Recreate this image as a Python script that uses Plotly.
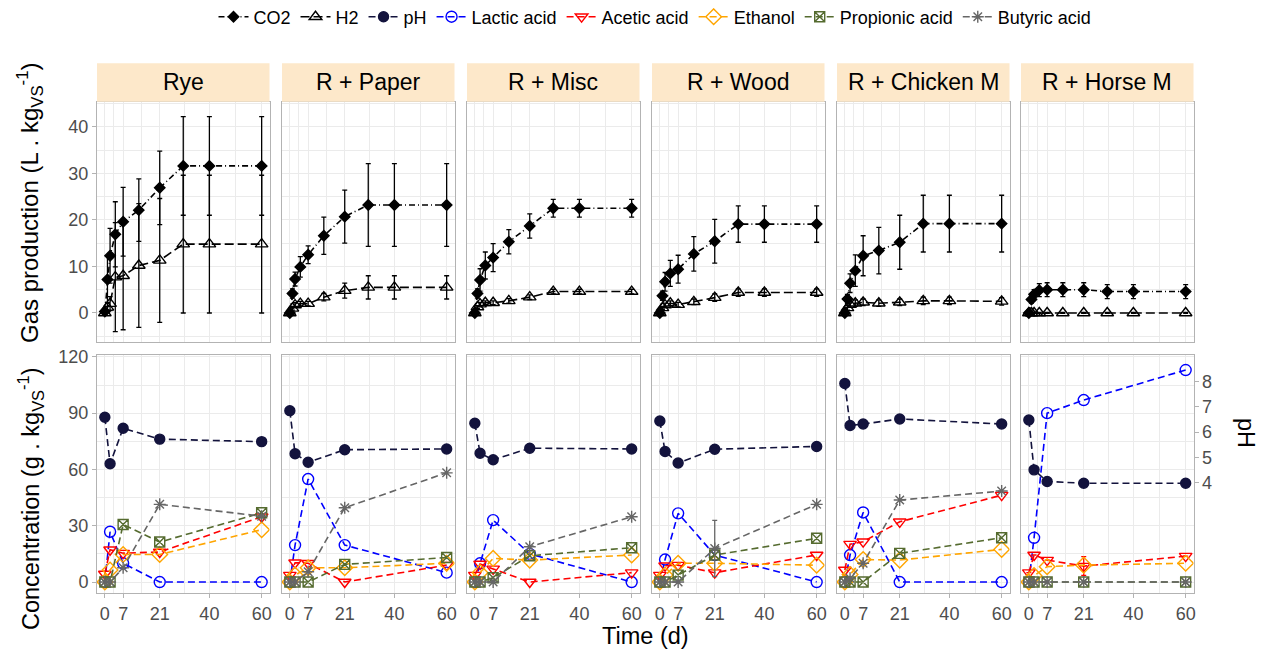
import plotly.graph_objects as go

# ---------------- data ----------------
panels = ["Rye", "R + Paper", "R + Misc", "R + Wood", "R + Chicken M", "R + Horse M"]
gas_days = [0, 1, 2, 4, 7, 13, 21, 30, 40, 60]
conc_days = [0, 2, 7, 21, 60]
x_ticks = [0, 7, 21, 40, 60]

co2_rye = [0.3, 7.2, 12.3, 16.9, 19.6, 22.1, 26.9, 31.6, 31.6, 31.6]
co2_paper = [0.0, 4.2, 7.3, 9.9, 12.5, 16.6, 20.7, 23.2, 23.2, 23.2]
co2_misc = [0.0, 4.2, 7.1, 10.2, 11.9, 15.3, 18.7, 22.5, 22.5, 22.5]
co2_wood = [0.0, 3.7, 6.7, 8.5, 9.4, 12.7, 15.4, 19.1, 19.1, 19.1]
co2_chicken = [0.0, 3.0, 6.4, 9.1, 12.3, 13.4, 15.2, 19.2, 19.2, 19.2]
co2_horse = [0.0, 2.9, 4.0, 4.9, 5.0, 5.0, 5.0, 4.6, 4.6, 4.6]

co2_sd_rye = [0.3, 5.0, 5.9, 7.0, 7.4, 6.7, 7.9, 10.6, 10.6, 10.6]
co2_sd_paper = [0.2, 1.0, 1.5, 2.2, 1.9, 4.0, 5.7, 8.9, 8.9, 8.9]
co2_sd_misc = [0.2, 1.0, 2.4, 2.9, 3.0, 2.6, 2.6, 1.9, 1.9, 1.9]
co2_sd_wood = [0.2, 1.0, 2.0, 2.8, 3.0, 3.7, 4.7, 3.9, 3.9, 3.9]
co2_sd_chicken = [0.2, 1.0, 2.0, 3.4, 4.3, 5.0, 5.8, 6.1, 6.1, 6.1]
co2_sd_horse = [0.2, 0.8, 1.0, 1.4, 1.5, 1.5, 1.5, 1.5, 1.5, 1.5]

h2_rye = [0.0, 1.2, 2.0, 7.7, 8.0, 10.2, 11.3, 14.8, 14.8, 14.8]
h2_paper = [0.0, 1.0, 1.7, 2.0, 2.0, 3.4, 4.8, 5.5, 5.5, 5.5]
h2_misc = [0.0, 1.3, 1.9, 2.2, 2.2, 2.6, 3.4, 4.6, 4.6, 4.6]
h2_wood = [0.0, 1.1, 1.7, 2.1, 1.8, 2.4, 3.3, 4.4, 4.4, 4.4]
h2_chicken = [0.0, 1.1, 1.8, 2.1, 2.3, 2.1, 2.3, 2.6, 2.6, 2.5]
h2_horse = [0.0, 0.0, 0.0, 0.0, 0.0, 0.0, 0.0, 0.0, 0.0, 0.0]

h2_sd_rye = [0.2, 1.0, 1.5, 11.7, 11.6, 13.3, 13.3, 14.8, 14.8, 14.8]
h2_sd_paper = [0.1, 0.4, 0.5, 0.5, 0.5, 0.8, 1.6, 2.5, 2.5, 2.5]
h2_sd_misc = [0.1, 0.3, 0.4, 0.4, 0.4, 0.5, 0.5, 0.5, 0.5, 0.5]
h2_sd_wood = [0.1, 0.3, 0.4, 0.5, 0.5, 0.6, 0.8, 0.8, 0.8, 0.8]
h2_sd_chicken = [0.1, 0.5, 0.6, 0.7, 0.7, 0.7, 0.7, 0.8, 0.8, 0.8]
h2_sd_horse = [0.1, 0.1, 0.1, 0.1, 0.1, 0.1, 0.1, 0.1, 0.1, 0.1]

ph_rye = [6.59, 4.74, 6.15, 5.72, 5.62]
ph_paper = [6.85, 5.14, 4.80, 5.30, 5.33]
ph_misc = [6.35, 5.16, 4.90, 5.36, 5.33]
ph_wood = [6.44, 5.23, 4.77, 5.32, 5.43]
ph_chicken = [7.93, 6.26, 6.32, 6.52, 6.32]
ph_horse = [6.48, 4.50, 4.04, 3.97, 3.97]

lactic_rye = [0, 26.8, 10.0, 0, 0]
lactic_paper = [0, 19.7, 54.9, 19.7, 5.0]
lactic_misc = [0, 10.0, 33.0, 15.0, 0]
lactic_wood = [0, 12.0, 36.6, 14.4, 0]
lactic_chicken = [0, 14.4, 37.1, 0, 0]
lactic_horse = [0, 23.6, 90.0, 97.0, 113.0]

acetic_rye = [4.3, 17.2, 15.4, 16.0, 34.8]
acetic_paper = [3.7, 10.3, 10.0, 0, 9.0]
acetic_misc = [3.7, 9.6, 7.0, 0, 5.0]
acetic_wood = [3.7, 8.7, 9.0, 5.0, 14.4]
acetic_chicken = [6.4, 20.2, 21.5, 32.1, 46.3]
acetic_horse = [5.0, 14.4, 11.7, 8.5, 13.8]
acetic_sd_horse = [0, 0, 0, 5.0, 0]

ethanol_rye = [0, 6.4, 14.7, 14.7, 27.9]
ethanol_paper = [0, 3.7, 7.6, 7.6, 10.0]
ethanol_misc = [0, 5.0, 12.6, 11.7, 14.4]
ethanol_wood = [0, 3.7, 10.0, 10.0, 9.0]
ethanol_chicken = [0, 4.0, 12.0, 11.7, 17.4]
ethanol_horse = [0, 3.4, 8.2, 9.0, 10.0]

propionic_rye = [0, 0, 30.7, 21.3, 36.9]
propionic_paper = [0, 0, 0, 9.4, 13.1]
propionic_misc = [0, 0, 2.3, 14.0, 18.3]
propionic_wood = [0, 0, 3.7, 14.4, 23.3]
propionic_chicken = [0, 0, 0, 15.3, 23.6]
propionic_horse = [0, 0, 0, 0, 0]

butyric_rye = [0, 0, 7.6, 41.4, 35.1]
butyric_paper = [0, 0, 5.5, 39.6, 58.2]
butyric_misc = [0, 0, 0, 18.8, 34.8]
butyric_wood = [0, 0, 0, 17.9, 41.4]
butyric_chicken = [0, 2.0, 10.0, 43.7, 48.5]
butyric_horse = [0, 0, 0, 0, 0]
butyric_sd_wood = [0, 0, 0, 15.0, 0]

co2 = [co2_rye, co2_paper, co2_misc, co2_wood, co2_chicken, co2_horse]
co2_sd = [co2_sd_rye, co2_sd_paper, co2_sd_misc, co2_sd_wood, co2_sd_chicken, co2_sd_horse]
h2 = [h2_rye, h2_paper, h2_misc, h2_wood, h2_chicken, h2_horse]
h2_sd = [h2_sd_rye, h2_sd_paper, h2_sd_misc, h2_sd_wood, h2_sd_chicken, h2_sd_horse]
ph = [ph_rye, ph_paper, ph_misc, ph_wood, ph_chicken, ph_horse]
lactic = [lactic_rye, lactic_paper, lactic_misc, lactic_wood, lactic_chicken, lactic_horse]
acetic = [acetic_rye, acetic_paper, acetic_misc, acetic_wood, acetic_chicken, acetic_horse]
ethanol = [ethanol_rye, ethanol_paper, ethanol_misc, ethanol_wood, ethanol_chicken, ethanol_horse]
propionic = [propionic_rye, propionic_paper, propionic_misc, propionic_wood, propionic_chicken, propionic_horse]
butyric = [butyric_rye, butyric_paper, butyric_misc, butyric_wood, butyric_chicken, butyric_horse]
acetic_sd = {5: acetic_sd_horse}
butyric_sd = {3: butyric_sd_wood}

# ---------------- layout geometry (screen pixels of the target) ----------------
W, H = 1266, 653
OFF = 8  # page body margin
col_left = [97, 282, 467, 652, 837, 1021]
col_w = 172.5
top_y = (101.7, 342.3)
bot_y = (355.0, 593.3)
strip_y = (63.3, 101.7)


def fx(px):
    return (px - OFF) / W


def fy(py):
    return 1 - (py - OFF) / H


FONT = "Liberation Sans, Arial, sans-serif"
GRID = "#EBEBEB"
BORDER = "#B3B3B3"
TICKC = "#4D4D4D"

fig = go.Figure()


def add(series_name, xs, ys, i, row, color, dash, symbol, size, err=None, first=False, yref=None):
    xa = "x" if (row == 0 and i == 0) else f"x{i + 1 + 6 * row}"
    ya = yref if yref else ("y" if (row == 0 and i == 0) else f"y{i + 1 + 6 * row}")
    mk = dict(symbol=symbol, size=size, color=color, line=dict(color=color, width=1.4))
    tr = go.Scatter(
        x=xs, y=ys, mode="lines+markers", name=series_name, legendgroup=series_name,
        showlegend=first, xaxis=xa, yaxis=ya,
        line=dict(color=color, width=1.6, dash=dash), marker=mk,
    )
    if err is not None:
        tr.error_y = dict(type="data", array=err, visible=True, color=color, thickness=1.3, width=2.5)
    fig.add_trace(tr)


for i in range(6):
    add("CO2", gas_days, co2[i], i, 0, "black", "6px,3px,1px,3px", "diamond", 8, co2_sd[i], i == 0)
for i in range(6):
    add("H2", gas_days, h2[i], i, 0, "black", "9px,4px", "triangle-up-open", 11, h2_sd[i], i == 0)
for i in range(6):
    add("pH", conc_days, ph[i], i, 1, "#13133d", "7px,4px", "circle", 10, None, i == 0, yref=f"y{13 + i}")
for i in range(6):
    add("Lactic acid", conc_days, lactic[i], i, 1, "#0000FF", "7px,4px", "circle-open", 11, None, i == 0)
for i in range(6):
    add("Acetic acid", conc_days, acetic[i], i, 1, "#FF0000", "7px,4px", "triangle-down-open", 11, acetic_sd.get(i), i == 0)
for i in range(6):
    add("Ethanol", conc_days, ethanol[i], i, 1, "#FFA500", "7px,4px", "diamond-open", 12, None, i == 0)
for i in range(6):
    add("Propionic acid", conc_days, propionic[i], i, 1, "#556B2F", "7px,4px", "square-x-open", 10, None, i == 0)
for i in range(6):
    add("Butyric acid", conc_days, butyric[i], i, 1, "#666666", "7px,4px", "asterisk-open", 10, butyric_sd.get(i), i == 0)

layout = dict(
    width=W, height=H, autosize=False,
    margin=dict(l=0, r=0, t=0, b=0, autoexpand=False),
    paper_bgcolor="white", plot_bgcolor="white",
    font=dict(family=FONT, size=18, color="black"),
    showlegend=True,
    legend=dict(orientation="h", x=fx(655), xanchor="center", y=fy(17), yanchor="middle",
                font=dict(size=18, color="black"), itemwidth=30, tracegroupgap=0,
                bgcolor="rgba(0,0,0,0)"),
)

for row in range(2):
    for i in range(6):
        n = i + 1 + 6 * row
        xk = "xaxis" if n == 1 else f"xaxis{n}"
        yk = "yaxis" if n == 1 else f"yaxis{n}"
        ydom = top_y if row == 0 else bot_y
        layout[xk] = dict(
            domain=[fx(col_left[i]), fx(col_left[i] + col_w)],
            anchor="y" if n == 1 else f"y{n}",
            range=[-3, 63], tickvals=x_ticks, ticktext=[str(v) for v in x_ticks],
            showticklabels=(row == 1), ticks="outside" if row == 1 else "",
            ticklen=4, tickcolor=BORDER, tickfont=dict(size=18, color=TICKC),
            showgrid=True, gridcolor=GRID, gridwidth=1.1,
            minor=dict(tickvals=[3.5, 14, 30.5, 50], showgrid=True, gridcolor=GRID, gridwidth=0.6, ticks=""),
            showline=True, linecolor=BORDER, linewidth=1, mirror=True, zeroline=False,
        )
        if row == 0:
            yr = [-6.3, 45.4]
            yt = [0, 10, 20, 30, 40]
            ymin = [-5, 5, 15, 25, 35, 45]
        else:
            yr = [-6.0, 121.0]
            yt = [0, 30, 60, 90, 120]
            ymin = [15, 45, 75, 105]
        layout[yk] = dict(
            domain=[fy(ydom[1]), fy(ydom[0])],
            anchor="x" if n == 1 else f"x{n}",
            range=yr, tickvals=yt, showticklabels=(i == 0), ticks="outside" if i == 0 else "",
            ticklen=4, tickcolor=BORDER, tickfont=dict(size=18, color=TICKC),
            showgrid=True, gridcolor=GRID, gridwidth=1.1,
            minor=dict(tickvals=ymin, showgrid=True, gridcolor=GRID, gridwidth=0.6, ticks=""),
            showline=True, linecolor=BORDER, linewidth=1, mirror=True, zeroline=False,
        )

for i in range(6):
    n = 13 + i
    last = (i == 5)
    layout[f"yaxis{n}"] = dict(
        overlaying=f"y{7 + i}", anchor=f"x{7 + i}", side="right",
        domain=[fy(bot_y[1]), fy(bot_y[0])],
        range=[-0.40, 9.06], tickvals=[4, 5, 6, 7, 8],
        showticklabels=last, ticks="outside" if last else "", ticklen=4, tickcolor=BORDER,
        tickfont=dict(size=18, color=TICKC),
        showgrid=False, zeroline=False, showline=False,
    )

shapes = []
annotations = []
for i, name in enumerate(panels):
    shapes.append(dict(type="rect", xref="paper", yref="paper",
                       x0=fx(col_left[i]), x1=fx(col_left[i] + col_w),
                       y0=fy(strip_y[1]), y1=fy(strip_y[0]),
                       fillcolor="#FDE8CA", line=dict(width=0)))
    annotations.append(dict(text=name, xref="paper", yref="paper",
                            x=fx(col_left[i] + col_w / 2), y=fy((strip_y[0] + strip_y[1]) / 2),
                            showarrow=False, font=dict(size=23, color="black"),
                            xanchor="center", yanchor="middle"))

annotations += [
    dict(text="Gas production (L . kg<sub>VS</sub><sup>-1</sup>)", xref="paper", yref="paper",
         x=fx(30), y=fy(203), textangle=-90, showarrow=False,
         font=dict(size=24, color="black"), xanchor="center", yanchor="middle"),
    dict(text="Concentration (g . kg<sub>VS</sub><sup>-1</sup>)", xref="paper", yref="paper",
         x=fx(30), y=fy(499), textangle=-90, showarrow=False,
         font=dict(size=23.5, color="black"), xanchor="center", yanchor="middle"),
    dict(text="pH", xref="paper", yref="paper", x=fx(1246), y=fy(433), textangle=90,
         showarrow=False, font=dict(size=23.5, color="black"), xanchor="center", yanchor="middle"),
    dict(text="Time (d)", xref="paper", yref="paper", x=fx(645), y=fy(636),
         showarrow=False, font=dict(size=23.5, color="black"), xanchor="center", yanchor="middle"),
]

layout["shapes"] = shapes
layout["annotations"] = annotations
fig.update_layout(**layout)
fig.write_html("out.html")
